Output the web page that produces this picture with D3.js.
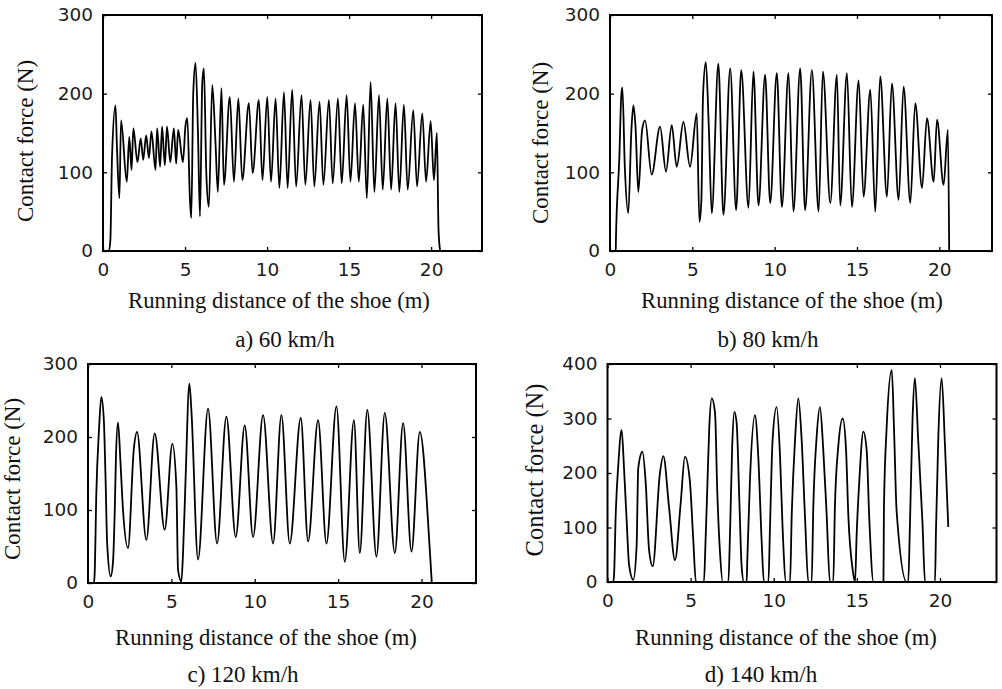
<!DOCTYPE html>
<html>
<head>
<meta charset="utf-8">
<script src="https://cdn.jsdelivr.net/npm/d3@7"></script>
<style>
body { margin: 0; background: #fff; }
.serif { font-family: "Liberation Serif", "DejaVu Serif", serif; fill: #111; }
.tick text { font-family: "DejaVu Sans", sans-serif; fill: #1b1b1b; }
</style>
</head>
<body>
<svg id="fig" width="1002" height="689"></svg>
<script>
// contact force vs running distance, [distance (m), force (N)]
var force60 = [[0,0],[0.36,0],[0.45,14],[0.55,120],[0.76,185],[0.85,132],[1.0,67],[1.1,166],[1.45,88],[1.6,145],[1.74,103],[1.85,156],[2.1,113],[2.3,143],[2.45,116],[2.63,147],[2.8,118],[2.95,152],[3.2,103],[3.3,156],[3.48,107],[3.6,158],[3.77,109],[3.9,158],[4.1,113],[4.32,156],[4.46,111],[4.58,154],[4.87,113],[5.03,160],[5.14,169],[5.3,65],[5.38,42],[5.5,200],[5.64,239],[5.79,149],[5.91,44],[6.05,213],[6.15,232],[6.3,97],[6.45,56],[6.66,211],[6.85,141],[7.0,75],[7.22,207],[7.37,84],[7.73,196],[7.98,88],[8.25,194],[8.49,90],[8.89,188],[9.12,99],[9.5,192],[9.72,90],[10.01,196],[10.24,88],[10.52,194],[10.75,80],[11.03,202],[11.25,80],[11.53,205],[11.77,82],[12.1,198],[12.33,84],[12.65,192],[12.88,82],[13.2,190],[13.43,84],[13.77,192],[14.0,86],[14.32,194],[14.55,86],[14.85,198],[15.08,88],[15.36,188],[15.59,88],[15.86,186],[16.08,67],[16.31,215],[16.54,75],[16.82,198],[17.05,78],[17.33,194],[17.56,78],[17.83,188],[18.06,75],[18.34,186],[18.57,78],[18.91,179],[19.14,82],[19.46,175],[19.69,88],[19.97,165],[20.17,90],[20.35,150],[20.45,27],[20.55,0]];

var force80 = [[0,0],[0.35,0],[0.36,14],[0.57,120],[0.68,196],[0.75,208],[0.9,107],[1.11,48],[1.3,154],[1.42,185],[1.55,158],[1.72,75],[1.95,154],[2.13,166],[2.53,97],[3.04,158],[3.4,101],[3.75,160],[4.05,107],[4.46,164],[4.86,107],[5.27,175],[5.43,37],[5.55,65],[5.65,198],[5.82,240],[6.0,158],[6.18,48],[6.58,238],[6.89,46],[7.3,232],[7.66,52],[7.97,230],[8.41,55],[8.71,228],[9.02,58],[9.42,224],[9.73,61],[10.13,226],[10.44,56],[10.84,226],[11.14,50],[11.55,232],[11.85,52],[12.26,230],[12.67,50],[12.93,228],[13.38,61],[13.78,224],[13.98,58],[14.39,226],[14.69,56],[15.1,217],[15.4,69],[15.81,205],[16.11,50],[16.41,222],[16.82,69],[17.12,213],[17.53,65],[17.83,209],[18.24,61],[18.54,188],[18.95,80],[19.25,169],[19.66,88],[19.86,167],[20.26,84],[20.52,154],[20.6,0]];

var force120 = [[0,0],[0.36,0],[0.4,13],[0.5,123],[0.66,210],[0.8,255],[0.95,223],[1.05,146],[1.15,54],[1.36,9],[1.5,29],[1.6,95],[1.68,175],[1.8,220],[1.95,164],[2.1,100],[2.4,48],[2.75,184],[2.94,207],[3.5,59],[4.0,205],[4.6,73],[5.06,191],[5.3,132],[5.4,18],[5.6,2],[5.7,41],[5.85,141],[6.08,273],[6.2,237],[6.6,32],[7.2,239],[7.74,54],[8.3,228],[8.86,63],[9.4,216],[9.9,63],[10.5,230],[11.1,54],[11.6,230],[12.1,54],[12.76,226],[13.2,57],[13.8,223],[14.3,54],[14.9,242],[15.4,29],[15.95,223],[16.3,41],[16.75,237],[17.3,36],[17.8,233],[18.4,41],[18.9,219],[19.4,43],[19.9,207],[20.5,45],[20.62,0]];

var force140 = [[0,0],[0.35,0],[0.4,16],[0.49,120],[0.65,215],[0.85,279],[1.0,205],[1.15,114],[1.3,31],[1.55,4],[1.75,65],[1.85,209],[2.1,239],[2.3,181],[2.5,59],[2.72,29],[3.15,199],[3.36,231],[3.7,138],[4.06,40],[4.4,144],[4.66,230],[4.95,187],[5.15,83],[5.32,0],[5.8,0],[5.9,77],[6.0,169],[6.12,282],[6.27,337],[6.47,310],[6.6,169],[6.77,53],[6.93,0],[7.27,0],[7.37,89],[7.5,248],[7.63,312],[7.77,291],[7.93,150],[8.07,28],[8.21,0],[8.37,0],[8.41,40],[8.57,187],[8.87,306],[9.07,230],[9.27,77],[9.41,0],[9.68,0],[9.77,95],[9.93,260],[10.17,321],[10.38,230],[10.53,101],[10.74,0],[10.98,0],[11.08,120],[11.28,260],[11.48,337],[11.68,260],[11.88,120],[12.08,0],[12.28,0],[12.38,138],[12.58,266],[12.78,321],[12.98,242],[13.18,126],[13.38,0],[13.58,0],[13.68,138],[13.88,248],[14.15,300],[14.35,242],[14.49,120],[14.75,22],[14.89,0],[14.99,89],[15.15,187],[15.39,276],[15.59,242],[15.75,114],[16.0,0],[16.6,0],[16.63,138],[16.79,282],[17.1,389],[17.24,276],[17.39,131],[18.0,0],[18.09,0],[18.19,101],[18.35,300],[18.49,374],[18.69,260],[18.95,107],[19.1,0],[19.7,0],[19.76,95],[19.9,266],[20.1,374],[20.3,251],[20.5,101]];

var xTicks = [0, 5, 10, 15, 20];
var yTicks300 = [0, 100, 200, 300];
var yTicks400 = [0, 100, 200, 300, 400];
var captions = ["a) 60 km/h", "b) 80 km/h", "c) 120 km/h", "d) 140 km/h"];
var xTitle = "Running distance of the shoe (m)";
var yTitle = "Contact force (N)";

// layout of the four panels
var panels = [
    {data: force60, l: 103, t: 15, r: 482, b: 251, xMax: 23.1, yMax: 300, yTicks: yTicks300,
        cap: captions[0], tx: 279, ty: 308, cx: 285, cy: 347, yx: 33, yy: 141, ys: 23},
    {data: force80, l: 610, t: 15, r: 992, b: 251, xMax: 23.2, yMax: 300, yTicks: yTicks300,
        cap: captions[1], tx: 792, ty: 308, cx: 768, cy: 347, yx: 548, yy: 143, ys: 23},
    {data: force120, l: 88, t: 364, r: 476, b: 583, xMax: 23.27, yMax: 300, yTicks: yTicks300,
        cap: captions[2], tx: 266, ty: 645, cx: 243, cy: 682, yx: 20, yy: 479, ys: 23},
    {data: force140, l: 607.5, t: 364, r: 996.5, b: 582, xMax: 23.4, yMax: 400, yTicks: yTicks400,
        cap: captions[3], tx: 786, ty: 645, cx: 761, cy: 682, yx: 543, yy: 470, ys: 24.5}
];

var svg = d3.select("#fig");

var style_axis = function(g){
    g.attr("font-family", null).attr("font-size", null);
    g.select(".domain").remove();
    g.selectAll("line").attr("stroke", "#000").attr("stroke-width", 1.3);
    g.selectAll("text").style("font-size", "18.5px");
};

var draw_panel = function(p){
    var x = d3.scaleLinear().domain([0, p.xMax]).range([p.l, p.r]);
    var y = d3.scaleLinear().domain([0, p.yMax]).range([p.b, p.t]);
    var g = svg.append("g");

    var line = d3.line()
        .x(function(d){ return x(d[0]); })
        .y(function(d){ return y(d[1]); })
        .curve(d3.curveMonotoneX);
    g.append("path").datum(p.data)
        .attr("d", line)
        .attr("fill", "none")
        .attr("stroke", "#000")
        .attr("stroke-width", 1.8)
        .attr("stroke-linejoin", "round");

    g.append("g").attr("transform", "translate(0," + p.b + ")")
        .call(d3.axisBottom(x).tickValues(xTicks).tickSizeInner(-4).tickSizeOuter(0).tickPadding(12))
        .call(style_axis);
    g.append("g").attr("transform", "translate(0," + p.t + ")")
        .call(d3.axisTop(x).tickValues(xTicks).tickSizeInner(-4).tickSizeOuter(0).tickFormat(""))
        .call(style_axis);
    g.append("g").attr("transform", "translate(" + p.l + ",0)")
        .call(d3.axisLeft(y).tickValues(p.yTicks).tickSizeInner(-4).tickSizeOuter(0).tickPadding(10))
        .call(style_axis);
    g.append("g").attr("transform", "translate(" + p.r + ",0)")
        .call(d3.axisRight(y).tickValues(p.yTicks).tickSizeInner(-4).tickSizeOuter(0).tickFormat(""))
        .call(style_axis);

    g.append("rect")
        .attr("x", p.l).attr("y", p.t)
        .attr("width", p.r - p.l).attr("height", p.b - p.t)
        .attr("fill", "none").attr("stroke", "#000").attr("stroke-width", 2);

    g.append("text").text(xTitle)
        .attr("class", "serif")
        .attr("x", p.tx).attr("y", p.ty)
        .attr("text-anchor", "middle")
        .style("font-size", "22.7px");
    g.append("text").text(p.cap)
        .attr("class", "serif")
        .attr("x", p.cx).attr("y", p.cy)
        .attr("text-anchor", "middle")
        .style("font-size", "23px");
    g.append("text").text(yTitle)
        .attr("class", "serif")
        .attr("transform", "translate(" + p.yx + "," + p.yy + ") rotate(-90)")
        .attr("text-anchor", "middle")
        .style("font-size", p.ys + "px");
};

panels.forEach(draw_panel);
</script>
</body>
</html>
